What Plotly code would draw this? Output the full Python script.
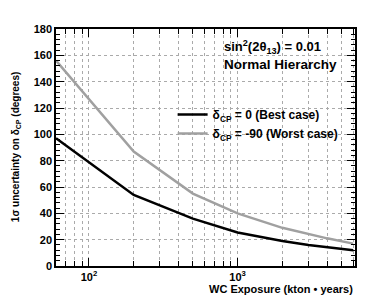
import plotly.graph_objects as go

exposure_best = [60, 200, 500, 1000, 2000, 3000, 6000]
sigma_best = [97, 54, 36, 25.5, 19, 16, 12]
exposure_worst = [60, 200, 500, 1000, 2000, 4000, 6000]
sigma_worst = [156, 87, 55, 40, 29, 21, 17]

name_best = "<b>δ<sub>CP</sub> = 0 (Best case)</b>"
name_worst = "<b>δ<sub>CP</sub> = -90 (Worst case)</b>"

FONT = "Liberation Sans, Arial, Helvetica, sans-serif"

fig = go.Figure()
fig.add_trace(go.Scatter(x=exposure_best, y=sigma_best, mode="lines", name=name_best,
                         line=dict(color="black", width=2.5)))
fig.add_trace(go.Scatter(x=exposure_worst, y=sigma_worst, mode="lines", name=name_worst,
                         line=dict(color="#a0a0a0", width=2.5)))

minor_x = [60, 70, 80, 90, 200, 300, 400, 500, 600, 700, 800, 900, 2000, 3000, 4000, 5000, 6000]

fig.update_xaxes(type="log", range=[1.778, 3.79],
                 tickvals=[100, 1000], ticktext=["<b>10<sup>2</sup></b>", "<b>10<sup>3</sup></b>"],
                 ticks="inside", ticklen=8, tickcolor="black", tickwidth=1,
                 showline=True, linecolor="black", linewidth=1.5, mirror="allticks",
                 showgrid=True, gridcolor="#aaa", griddash="dot", gridwidth=1,
                 minor=dict(tickvals=minor_x, ticks="inside", ticklen=5, tickcolor="black",
                            showgrid=True, gridcolor="#aaa", griddash="dot", gridwidth=1),
                 tickfont=dict(size=11, color="black", family=FONT), zeroline=False, automargin=False)
fig.update_yaxes(range=[0, 180], tick0=0, dtick=20,
                 ticks="inside", ticklen=8, tickcolor="black",
                 showline=True, linecolor="black", linewidth=1.5, mirror="allticks",
                 showgrid=True, gridcolor="#aaa", griddash="dot", gridwidth=1,
                 minor=dict(dtick=4, ticks="inside", ticklen=4, tickcolor="black", showgrid=False),
                 tickfont=dict(size=11, color="black", family=FONT, weight="bold"), zeroline=False,
                 automargin=False)

fig.add_annotation(text="<b>sin<sup>2</sup>(2θ<sub>13</sub>) = 0.01</b>", xref="paper", yref="paper",
                   x=0.555, y=0.922, xanchor="left", yanchor="middle", showarrow=False,
                   font=dict(size=13, color="black", family=FONT))
fig.add_annotation(text="<b>Normal Hierarchy</b>", xref="paper", yref="paper",
                   x=0.555, y=0.85, xanchor="left", yanchor="middle", showarrow=False,
                   font=dict(size=13.5, color="black", family=FONT))
fig.add_annotation(text="<b>1σ uncertainty on δ<sub>CP</sub> (degrees)</b>", xref="paper", yref="paper",
                   x=-0.135, y=0.5, xanchor="center", yanchor="middle", textangle=-90, showarrow=False,
                   font=dict(size=10, color="black", family=FONT))
fig.add_annotation(text="<b>WC Exposure (kton • years)</b>", xref="paper", yref="paper",
                   x=1.0, y=-0.096, xanchor="right", yanchor="middle", showarrow=False,
                   font=dict(size=11, color="black", family=FONT))

# page body has an 8px default margin, so the figure is sized to fit the 374x295 window
fig.update_layout(width=366, height=287, margin=dict(l=48, r=19, t=21, b=29),
                  plot_bgcolor="white", paper_bgcolor="white",
                  legend=dict(x=0.39, y=0.7, xanchor="left", yanchor="top",
                              bgcolor="rgba(0,0,0,0)", font=dict(size=12, color="black", family=FONT),
                              itemwidth=30, tracegroupgap=0),
                  showlegend=True)

fig.write_html("out.html")
